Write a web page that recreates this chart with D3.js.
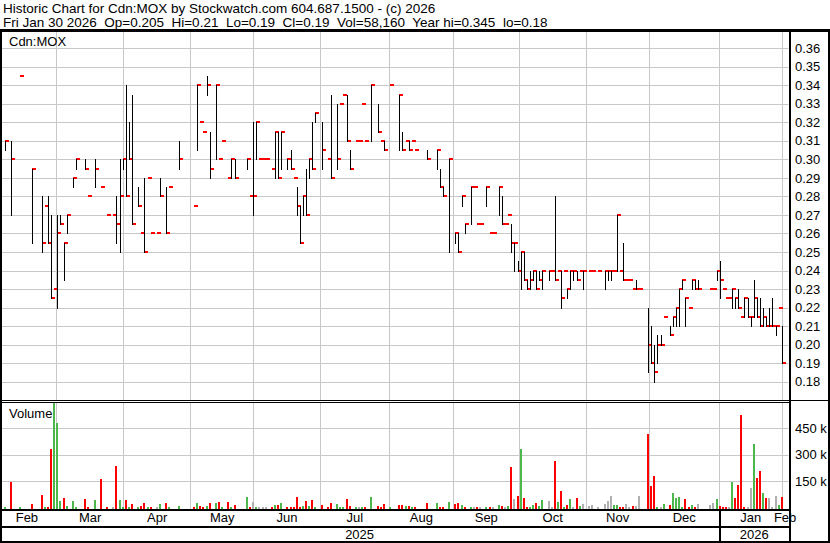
<!DOCTYPE html>
<html><head><meta charset="utf-8">
<script src="https://cdn.jsdelivr.net/npm/d3@7"></script>
<style>
body{margin:0;background:#fff}
svg{display:block}
text{font-family:"Liberation Sans",Arial,sans-serif;fill:#000;white-space:pre}
</style>
</head><body><svg id="c" width="830" height="543"></svg>
<script>
const titleLine = "Historic Chart for Cdn:MOX by Stockwatch.com 604.687.1500 - (c) 2026";
const infoLine = "Fri Jan 30 2026  Op=0.205  Hi=0.21  Lo=0.19  Cl=0.19  Vol=58,160  Year hi=0.345  lo=0.18";
const symbol = "Cdn:MOX";
const volumeTitle = "Volume";
const nDays = 251;

const dayIdx = [
 0,2,5,9,12,13,14,15,16,17, 18,19,20,22,23,26,27,29,31,33,
 35,36,37,38,39,40,41,43,44,45, 46,47,49,50,52,53,56,61,62,63,
 64,65,66,68,69,70,72,73,74,78, 79,80,81,82,83,84,86,87,88,89,
 91,92,93,94,95,96,97,98,99,100, 102,104,105,107,108,109,110,111,113,114,
 115,116,118,120,121,122,124,127,128,129, 130,131,132,136,139,140,141,143,145,146,
 147,148,150,151,152,153,155,156,157,159, 160,161,162,163,164,165,166,167,168,169,
 170,171,172,173,175,176,177,178,179,180, 181,182,183,184,185,186,188,189,191,193,
 194,195,196,197,198,199,200,201,202,203, 204,207,208,209,210,211,212,214,215,216,
 217,218,219,220,221,222,223,227,228,229, 230,231,232,233,234,235,236,237,238,239,
 240,241,242,243,244,245,246,247,248,249,250];

const high = [
 .31,.31,.345,.295,.28,.275,.28,.27,.23,.27, .27,.255,.27,.29,.30,.30,.28,.30,.285,.27,
 .27,.28,.30,.30,.34,.32,.335,.285,.26,.29, .29,.26,.26,.29,.285,.285,.31,.275,.34,.32,
 .315,.345,.315,.34,.30,.31,.29,.30,.30,.30, .28,.32,.32,.30,.30,.30,.295,.315,.315,.315,
 .30,.305,.29,.285,.275,.28,.295,.30,.32,.325, .32,.30,.335,.33,.33,.335,.335,.305,.31,.31,
 .33,.31,.34,.33,.31,.31,.34,.335,.315,.31, .31,.31,.305,.305,.305,.295,.285,.30,.26,.26,
 .28,.265,.285,.285,.265,.265,.285,.26,.26,.285, .28,.265,.27,.265,.255,.245,.25,.25,.235,.24,
 .24,.24,.24,.24,.24,.24,.28,.24,.24,.24, .23,.24,.24,.24,.24,.24,.24,.24,.24,.24,
 .24,.24,.24,.27,.24,.255,.235,.235,.23,.235, .23,.22,.21,.20,.205,.205,.215,.21,.215,.22,
 .23,.235,.225,.22,.235,.235,.235,.23,.23,.24, .245,.23,.225,.225,.23,.225,.23,.215,.225,.225,
 .215,.235,.225,.225,.22,.215,.22,.225,.21,.22,.21];

const low = [
 .305,.27,.345,.255,.25,.275,.255,.225,.23,.22, .265,.235,.26,.285,.295,.295,.28,.285,.285,.27,
 .27,.255,.25,.295,.28,.30,.265,.275,.26,.25, .29,.26,.26,.28,.26,.285,.295,.275,.305,.32,
 .315,.335,.29,.30,.30,.31,.29,.29,.29,.295, .28,.27,.30,.30,.30,.30,.295,.29,.29,.295,
 .295,.295,.29,.27,.255,.27,.27,.29,.295,.32, .295,.30,.29,.295,.33,.335,.31,.295,.31,.31,
 .33,.31,.31,.315,.31,.305,.34,.305,.305,.31, .305,.31,.305,.30,.295,.285,.28,.25,.255,.25,
 .275,.26,.265,.285,.265,.265,.275,.26,.26,.27, .265,.265,.27,.25,.24,.24,.23,.235,.23,.23,
 .235,.23,.235,.23,.235,.24,.235,.24,.22,.24, .225,.23,.235,.235,.24,.23,.24,.24,.24,.23,
 .235,.235,.24,.24,.24,.235,.235,.235,.23,.23, .23,.185,.19,.18,.19,.20,.215,.205,.21,.21,
 .21,.23,.21,.22,.23,.23,.23,.23,.23,.235, .225,.23,.225,.225,.22,.22,.22,.215,.215,.215,
 .21,.215,.215,.21,.21,.21,.21,.21,.205,.22,.19];

const close = [
 .31,.30,.345,.295,.255,.275,.255,.225,.23,.26, .265,.255,.27,.29,.30,.295,.28,.295,.285,.27,
 .27,.265,.28,.30,.28,.30,.265,.275,.26,.25, .29,.26,.26,.28,.26,.285,.30,.275,.34,.32,
 .315,.34,.295,.34,.30,.31,.29,.30,.29,.30, .28,.28,.32,.30,.30,.30,.295,.315,.29,.315,
 .30,.295,.29,.275,.255,.28,.27,.30,.295,.325, .305,.30,.29,.30,.33,.335,.31,.295,.31,.31,
 .33,.31,.34,.315,.31,.305,.34,.335,.305,.31, .305,.31,.305,.30,.305,.285,.28,.30,.26,.25,
 .28,.265,.285,.285,.265,.265,.285,.26,.26,.285, .265,.265,.27,.255,.255,.24,.25,.235,.23,.235,
 .24,.23,.235,.24,.24,.24,.235,.24,.225,.24, .23,.24,.24,.235,.24,.24,.24,.24,.24,.24,
 .24,.24,.24,.27,.24,.235,.235,.235,.23,.23, .23,.20,.19,.185,.20,.20,.215,.205,.215,.22,
 .23,.235,.225,.22,.235,.23,.23,.23,.23,.24, .235,.23,.225,.225,.23,.225,.22,.215,.225,.215,
 .215,.225,.215,.21,.215,.21,.21,.21,.21,.22,.19];

// volume in thousands of shares
const volumeK = [
 5,145,3,20,71,2,2,332,600,482, 37,56,10,37,5,48,2,43,162,2,
 2,236,43,5,43,5,20,2,9,26, 2,2,2,20,26,2,9,2,26,10,
 2,10,26,26,31,2,31,2,14,60, 5,31,5,5,5,2,2,14,14,26,
 2,2,5,60,2,10,37,10,43,5, 14,2,26,20,5,5,48,9,2,2,
 5,5,60,9,2,20,2,14,14,9, 9,2,2,26,26,5,2,31,20,26,
 14,2,5,2,5,2,5,5,2,14, 10,5,10,232,50,67,334,56,2,5,
 14,26,10,45,39,2,266,33,94,2, 14,50,2,56,10,22,10,14,2,20,
 37,65,14,14,2,5,20,2,10,10, 65,420,122,179,3,2,20,14,82,56,
 62,2,48,2,14,3,20,14,26,48, 10,2,2,2,147,56,128,527,2,2,
 111,363,170,207,82,56,56,3,65,14,58];

// u = up day, d = down day, n = unchanged
const volDir = (
 "ududdudduu" + "uduuuddudd" + "nduudududd" + "udnuduudud" + "dududududu" +
 "dnunnndudu" + "dddddududu" + "ddduuuddun" + "ududdduddu" + "dudduddudd" +
 "udundnudnu" + "dnudnduddu" + "uduunndudu" + "dundunnnnn" + "nnuuddnndn" +
 "ndddunuduu" + "uuddudnnnu" + "dddnuddddn" + "nuddudnnnud").split("");

const priceTicks = [0.18,0.19,0.20,0.21,0.22,0.23,0.24,0.25,0.26,0.27,0.28,0.29,0.30,0.31,0.32,0.33,0.34,0.35,0.36];
const volTicks = [150,300,450];
const volTickLabels = ["150 k","300 k","450 k"];
const monthBounds = [-2.5,16.6,38.2,59.7,80,101.4,123.6,144.2,165.4,186.9,207.2,229.7,250,251.8];
const monthLabels = ["Feb","Mar","Apr","May","Jun","Jul","Aug","Sep","Oct","Nov","Dec","Jan","Feb"];
const yearBounds = [-1.6,229.7,252.3];
const yearLabels = ["2025","2026"];

const svg = d3.select("#c");
const GRID = "#c8c8c8", RED = "#ff0000", GREEN = "#4cb84c", GRAY = "#b0b0b0";
const AX = 789.5; // right axis line

const x = d3.scaleLinear().domain([0, nDays-1]).range([5, 782.3]);
const yP = d3.scaleLinear().domain([0.18, 0.36]).range([381.6, 48.3]);
const yV = d3.scaleLinear().domain([0, 600]).range([507.5, 401.9]);
const px = i => Math.floor(x(i)) + 0.5;
const py = v => Math.round(yP(v)) + 0.5;

svg.append("rect").attr("width",830).attr("height",543).attr("fill","#fff");

// header
svg.append("text").attr("x",3).attr("y",13.3).attr("font-size",13.5).attr("xml:space","preserve").text(titleLine);
svg.append("text").attr("x",3).attr("y",26.7).attr("font-size",13.5).attr("xml:space","preserve").text(infoLine);

// price grid
svg.append("g").selectAll("line").data(priceTicks).join("line")
  .attr("x1",2).attr("x2",AX-1).attr("y1",d=>py(d)).attr("y2",d=>py(d))
  .attr("stroke",GRID).attr("stroke-width",1);
// volume grid
svg.append("g").selectAll("line").data(volTicks).join("line")
  .attr("x1",2).attr("x2",AX-1).attr("y1",d=>Math.round(yV(d))+0.5).attr("y2",d=>Math.round(yV(d))+0.5)
  .attr("stroke",GRID).attr("stroke-width",1);
// month grid
const gridB = monthBounds.slice(1,-1);
svg.append("g").selectAll("line").data(gridB).join("line")
  .attr("x1",d=>px(d)).attr("x2",d=>px(d)).attr("y1",31).attr("y2",400)
  .attr("stroke",GRID);
svg.append("g").selectAll("line").data(gridB).join("line")
  .attr("x1",d=>px(d)).attr("x2",d=>px(d)).attr("y1",403).attr("y2",509)
  .attr("stroke",GRID);

// panel labels
svg.append("text").attr("x",9).attr("y",46).attr("font-size",13).text(symbol);
svg.append("text").attr("x",9).attr("y",418).attr("font-size",13).text(volumeTitle);

// volume bars
const days = dayIdx.map((d,k)=>({i:d,h:high[k],l:low[k],c:close[k],v:volumeK[k],dir:volDir[k]}));
svg.append("g").selectAll("rect").data(days).join("rect")
  .attr("x",d=>px(d.i)-1.5).attr("width",2)
  .attr("y",d=>yV(d.v)).attr("height",d=>509-yV(d.v))
  .attr("fill",d=>d.dir==="u"?GREEN:d.dir==="d"?RED:GRAY)
  .attr("shape-rendering","crispEdges");

// close ticks
svg.append("g").selectAll("rect").data(days).join("rect")
  .attr("x",d=>px(d.i)-0.5).attr("width",4)
  .attr("y",d=>Math.round(yP(d.c))-1).attr("height",2)
  .attr("fill",RED).attr("shape-rendering","crispEdges");
// high-low lines
svg.append("g").selectAll("line").data(days.filter(d=>d.h>d.l)).join("line")
  .attr("x1",d=>px(d.i)).attr("x2",d=>px(d.i))
  .attr("y1",d=>Math.round(yP(d.h))).attr("y2",d=>Math.round(yP(d.l))+1)
  .attr("stroke","#000").attr("stroke-width",1).attr("shape-rendering","crispEdges");

// axis labels
svg.append("g").selectAll("text").data(priceTicks).join("text")
  .attr("x",795).attr("y",d=>yP(d)+4.6).attr("font-size",13).text(d=>d.toFixed(2));
svg.append("g").selectAll("text").data(volTicks).join("text")
  .attr("x",795).attr("y",d=>yV(d)+4.6).attr("font-size",13).text((d,k)=>volTickLabels[k]);

// month labels
svg.append("g").selectAll("text").data(monthLabels).join("text")
  .attr("x",(d,k)=>(x(monthBounds[k])+x(monthBounds[k+1]))/2).attr("y",522.3)
  .attr("text-anchor","middle").attr("font-size",13).text(d=>d);
svg.append("g").selectAll("text").data(yearLabels).join("text")
  .attr("x",(d,k)=>(x(yearBounds[k])+x(yearBounds[k+1]))/2).attr("y",539)
  .attr("text-anchor","middle").attr("font-size",13).text(d=>d);

// frame lines
const blk = (X,Y,Wd,Ht)=>svg.append("rect").attr("x",X).attr("y",Y).attr("width",Wd).attr("height",Ht).attr("fill","#000").attr("shape-rendering","crispEdges");
blk(0,29,830,2.5);          // header separator
blk(0,29,2,514);            // left border
blk(828,29,2,514);          // right border
blk(AX-1,29,2,514);         // right axis line
blk(0,400,830,1);           // price panel bottom
blk(0,402,AX,1);            // volume panel top
blk(0,509,AX,2);            // volume baseline
blk(0,525.5,AX,2);          // month row bottom
blk(0,540.5,830,2.5);       // bottom border
blk(px(yearBounds[1])-1,509,2,33); // year divider
</script>
</body></html>
